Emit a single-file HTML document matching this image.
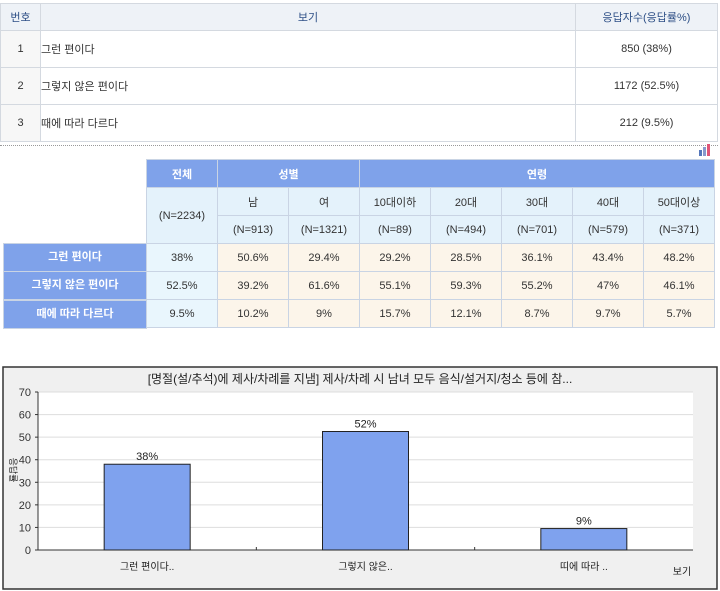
<!DOCTYPE html>
<html><head><meta charset="utf-8"><style>
body{margin:0;width:720px;height:591px;background:#fff;font-family:"Liberation Sans","Noto Sans CJK KR",sans-serif;font-size:11px;color:#333;position:relative;overflow:hidden}
table{border-collapse:collapse;position:absolute}
#t1{left:0;top:3px;width:718px}
#t1 td{border:1px solid #d4d9e0;height:36px;padding:0}
#t1 tr.h td{background:#eef2f7;color:#2d4f86;height:26px;text-align:center}
#t2{left:146px;top:159px}
#t2 td{border:1px solid #c9d4e4;text-align:center;width:70px;height:27px;padding:0}
.hb{background:#7fa2ea;color:#fff;font-weight:bold}
.sb{background:#e4f2fb}
.ca{background:#e9f6fd}
.cc{background:#fcf5ea}
.rl{background:#7fa2ea;color:#fff;font-weight:bold;position:absolute;left:3px;width:142px;height:27px;line-height:27px;text-align:center;border:1px solid #c9d4e4}
</style></head><body>
<table id="t1">
<tr class="h"><td style="width:39px">번호</td><td>보기</td><td style="width:141px">응답자수(응답률%)</td></tr>
<tr><td style="text-align:center;background:#f7f7f7">1</td><td>그런 편이다</td><td style="text-align:center">850 (38%)</td></tr>
<tr><td style="text-align:center;background:#f7f7f7">2</td><td>그렇지 않은 편이다</td><td style="text-align:center">1172 (52.5%)</td></tr>
<tr><td style="text-align:center;background:#f7f7f7">3</td><td>때에 따라 다르다</td><td style="text-align:center">212 (9.5%)</td></tr>
</table>
<div style="position:absolute;left:0;top:145px;width:718px;border-top:1px dotted #999"></div>
<svg style="position:absolute;left:698px;top:144px" width="14" height="12"><rect x="1" y="6" width="3" height="6" fill="#5577bb"/><rect x="5" y="3" width="3" height="9" fill="#8899cc"/><rect x="9" y="0" width="3" height="12" fill="#e05577"/></svg>
<table id="t2">
<tr><td class="hb">전체</td><td class="hb" colspan="2">성별</td><td class="hb" colspan="5">연령</td></tr>
<tr><td class="sb" rowspan="2">(N=2234)</td><td class="sb">남</td><td class="sb">여</td><td class="sb">10대이하</td><td class="sb">20대</td><td class="sb">30대</td><td class="sb">40대</td><td class="sb">50대이상</td></tr>
<tr><td class="sb">(N=913)</td><td class="sb">(N=1321)</td><td class="sb">(N=89)</td><td class="sb">(N=494)</td><td class="sb">(N=701)</td><td class="sb">(N=579)</td><td class="sb">(N=371)</td></tr>
<tr><td class="ca">38%</td><td class="cc">50.6%</td><td class="cc">29.4%</td><td class="cc">29.2%</td><td class="cc">28.5%</td><td class="cc">36.1%</td><td class="cc">43.4%</td><td class="cc">48.2%</td></tr>
<tr><td class="ca">52.5%</td><td class="cc">39.2%</td><td class="cc">61.6%</td><td class="cc">55.1%</td><td class="cc">59.3%</td><td class="cc">55.2%</td><td class="cc">47%</td><td class="cc">46.1%</td></tr>
<tr><td class="ca">9.5%</td><td class="cc">10.2%</td><td class="cc">9%</td><td class="cc">15.7%</td><td class="cc">12.1%</td><td class="cc">8.7%</td><td class="cc">9.7%</td><td class="cc">5.7%</td></tr>
</table>
<div class="rl" style="top:243px">그런 편이다</div>
<div class="rl" style="top:271px">그렇지 않은 편이다</div>
<div class="rl" style="top:300px">때에 따라 다르다</div>

<svg id="chart" style="position:absolute;left:0;top:0" width="720" height="591"></svg>
<script>
const categories=["그런 편이다..","그렇지 않은..","띠에 따라 .."];
const values=[38,52.5,9.5];
const valueLabels=["38%","52%","9%"];
const yTicks=[0,10,20,30,40,50,60,70];
const NS="http://www.w3.org/2000/svg";
const svg=document.getElementById('chart');
const L=38,R=693,T=392,B=550,yMax=70;
const y=v=>B-(v/yMax)*(B-T);
const band=(R-L)/categories.length;
const xc=i=>L+band*(i+0.5);
function mk(t,a,txt){const e=document.createElementNS(NS,t);for(const k in a)e.setAttribute(k,a[k]);if(txt!==undefined)e.textContent=txt;svg.appendChild(e);return e;}
let e;
e=mk('rect',{x:3,y:367,width:714,height:222,fill:'#f0f0f0',stroke:'#333','stroke-width':1.5});


e=mk('text',{x:360,y:383,'text-anchor':'middle','font-size':12,fill:'#222'},'[명절(설/추석)에 제사/차례를 지냄] 제사/차례 시 남녀 모두 음식/설거지/청소 등에 참...');


e=mk('rect',{x:L,y:T,width:R-L,height:B-T,fill:'#fff'});


yTicks.forEach(t=>{
  if(t>0){e=mk('line',{x1:L,x2:R,y1:y(t),y2:y(t),stroke:'#ddd'});
  
  }
  e=mk('text',{x:31,y:y(t)+4,'text-anchor':'end','font-size':11,fill:'#333'},String(t));
  
  
  mk('line',{x1:L-3,x2:L,y1:y(t),y2:y(t),stroke:'#333'});
});
for(let i=1;i<categories.length;i++){mk('line',{x1:L+band*i,x2:L+band*i,y1:B,y2:B-3,stroke:'#333'});}
mk('line',{x1:L,x2:L,y1:T,y2:B,stroke:'#333'});
mk('line',{x1:L,x2:R,y1:B,y2:B,stroke:'#333'});
const bw=86;
values.forEach((v,i)=>{
  e=mk('rect',{x:xc(i)-bw/2,y:y(v),width:bw,height:B-y(v),fill:'#7fa2ee',stroke:'#222','stroke-width':1});
  
  
  e=mk('text',{x:xc(i),y:y(v)-4,'text-anchor':'middle','font-size':11,fill:'#222'},valueLabels[i]);
  
  
  e=mk('text',{x:xc(i),y:570,'text-anchor':'middle','font-size':10,fill:'#222'},categories[i]);
  
  
});
e=mk('text',{x:682,y:575,'text-anchor':'middle','font-size':10,fill:'#222'},'보기');


e=mk('text',{x:10,y:470,'text-anchor':'middle','font-size':9,fill:'#222',transform:'rotate(90 10 470)'},'응답률');


</script>
</body></html>
